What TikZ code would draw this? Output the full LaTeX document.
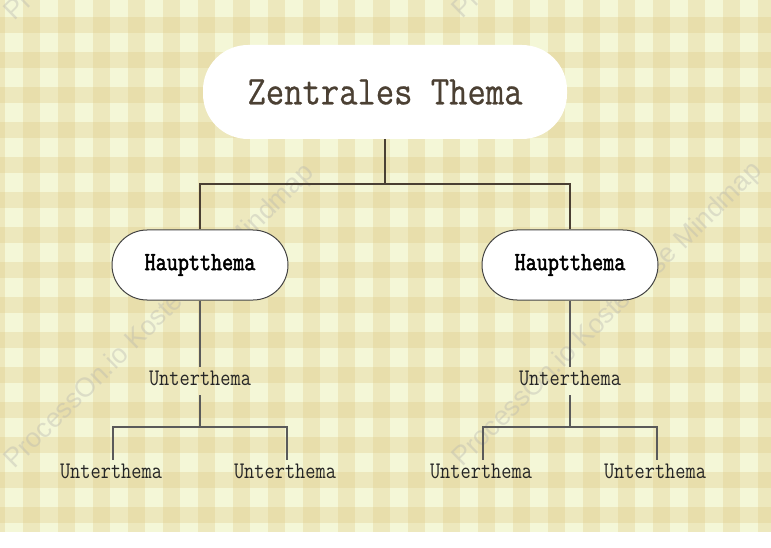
\documentclass[tikz,border=0pt]{standalone}
\usepackage{fontspec}
\usepackage{graphicx}
\setmainfont{Latin Modern Mono}
\newfontfamily\boldmono[FakeBold=2.2]{Latin Modern Mono}
\newfontfamily\centralmono[FakeBold=0.6]{Latin Modern Mono}
\newfontfamily\wmfont{Liberation Sans}
\newcommand{\tallertext}[2]{\scalebox{1}[#1]{#2}}
\definecolor{bglight}{HTML}{F4F7D7}
\definecolor{bandcol}{HTML}{E0C886}
\definecolor{centertext}{HTML}{4B4033}
\definecolor{mainline}{HTML}{4A3F33}
\definecolor{subline}{HTML}{5A5A5A}
\definecolor{hborder}{HTML}{444444}
\definecolor{wmcol}{HTML}{B8B8B0}
\tikzset{
  centralbox/.style={rounded corners=45pt, fill=white, minimum width=364pt, minimum height=94pt, inner sep=0pt, text=centertext, font=\centralmono\fontsize{35.6}{36}\selectfont},
  hauptbox/.style={rounded corners=35pt, fill=white, draw=hborder, line width=1pt, minimum width=176pt, minimum height=70pt, inner sep=0pt, font=\boldmono\fontsize{21.5}{22}\selectfont},
  unterbox/.style={inner xsep=2pt, inner ysep=6pt, text height=12pt, text depth=4pt, text=black!85, font=\fontsize{19.8}{20}\selectfont},
  mainconn/.style={draw=mainline, line width=2.8pt},
  subconn/.style={draw=subline, line width=1.5pt},
  watermark/.style={rotate=44.5, text=wmcol, opacity=0.4, font=\wmfont\fontsize{27}{27}\selectfont},
}
\begin{document}
\begin{tikzpicture}[x=1pt, y=-1pt]
\useasboundingbox (0,0) rectangle (771,548);
\fill[white] (0,0) rectangle (771,548);
\begin{scope}
  \clip (0,0) rectangle (771,532);
  \fill[bglight] (0,0) rectangle (771,532);
  \foreach \k in {-1,...,22} {
    \fill[bandcol, opacity=0.31] ({23+35*\k},0) rectangle ({40+35*\k},532);
  }
  \foreach \k in {-1,...,15} {
    \fill[bandcol, opacity=0.31] (0,{17+35*\k}) rectangle (771,{33+35*\k});
  }
  \node[watermark] (wm1) at (160,317) {ProcessOn.io Kostenlose Mindmap};
  \node[watermark] (wm2) at (608,315) {ProcessOn.io Kostenlose Mindmap};
  \node[watermark] (wm3) at (160,-131) {ProcessOn.io Kostenlose Mindmap};
  \node[watermark] (wm4) at (608,-133) {ProcessOn.io Kostenlose Mindmap};
\end{scope}

\node[centralbox] (C) at (385,92) {\tallertext{1.15}{Zentrales Thema}};
\node[hauptbox] (H1) at (200,265) {\tallertext{1.22}{Hauptthema}};
\node[hauptbox] (H2) at (570,265) {\tallertext{1.22}{Hauptthema}};
\node[unterbox] (U1) at (200,381) {\tallertext{1.2}{Unterthema}};
\node[unterbox] (U2) at (570,381) {\tallertext{1.2}{Unterthema}};
\node[unterbox] (L1) at (111,474) {\tallertext{1.2}{Unterthema}};
\node[unterbox] (L2) at (285,474) {\tallertext{1.2}{Unterthema}};
\node[unterbox] (L3) at (481,474) {\tallertext{1.2}{Unterthema}};
\node[unterbox] (L4) at (655,474) {\tallertext{1.2}{Unterthema}};

\coordinate (J) at (385,184);
\draw[mainconn] (C.south) -- (J);
\draw[mainconn] (J) -| (H1.north);
\draw[mainconn] (J) -| (H2.north);

\draw[subconn] (H1.south) -- (U1.north);
\draw[subconn] (H2.south) -- (U2.north);

\coordinate (B1) at (200,427);
\coordinate (B2) at (570,427);
\draw[subconn] (U1.south) -- (B1);
\draw[subconn] (B1) -| ([xshift=2pt]L1.north);
\draw[subconn] (B1) -| ([xshift=2pt]L2.north);
\draw[subconn] (U2.south) -- (B2);
\draw[subconn] (B2) -| ([xshift=2pt]L3.north);
\draw[subconn] (B2) -| ([xshift=2pt]L4.north);
\end{tikzpicture}
\end{document}
